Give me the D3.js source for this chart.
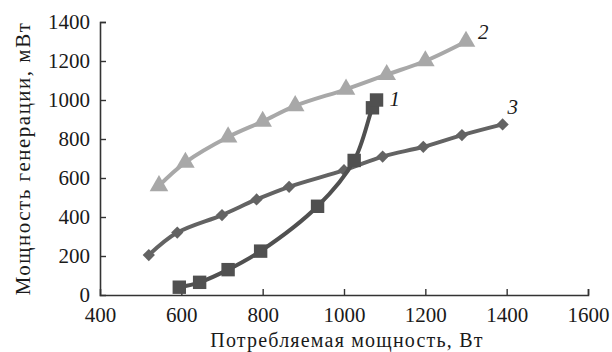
<!DOCTYPE html>
<html>
<head>
<meta charset="utf-8">
<script src="https://cdn.jsdelivr.net/npm/d3@7"></script>
<style>
  body { margin: 0; background: #fff; }
</style>
</head>
<body>
<script>
// series 1 (squares)
const s1x = [595, 645, 715, 795, 935, 1025, 1070, 1080];
const s1y = [40, 65, 130, 225, 455, 690, 960, 1000];
// series 2 (triangles)
const s2x = [545, 610, 715, 800, 880, 1005, 1105, 1200, 1300];
const s2y = [560, 680, 810, 890, 970, 1055, 1130, 1200, 1300];
// series 3 (diamonds)
const s3x = [520, 590, 700, 785, 865, 1000, 1095, 1195, 1290, 1390];
const s3y = [205, 320, 410, 490, 555, 640, 710, 760, 820, 875];

const xTicks = [400, 600, 800, 1000, 1200, 1400, 1600];
const yTicks = [0, 200, 400, 600, 800, 1000, 1200, 1400];
const xTitle = "Потребляемая мощность, Вт";
const yTitle = "Мощность генерации, мВт";

const FONT = "'Liberation Serif'";

let margin = { top: 22, right: 24, bottom: 57, left: 100 },
  width = 612 - margin.left - margin.right,
  height = 352 - margin.top - margin.bottom;

let svg = d3.select("body").append("svg")
  .attr("width", 612)
  .attr("height", 352)
  .append("g")
  .attr("transform", "translate(" + margin.left + "," + margin.top + ")");

let x = d3.scaleLinear().domain([400, 1600]).range([0, width]);
let y = d3.scaleLinear().domain([0, 1400]).range([height, 0]);

let x_node = svg.append("g")
  .attr("transform", "translate(0," + height + ")")
  .call(d3.axisBottom(x).tickValues(xTicks).tickSize(-6).tickPadding(12).tickFormat(d3.format("d")));
let y_node = svg.append("g")
  .call(d3.axisLeft(y).tickValues(yTicks).tickSize(-6).tickPadding(10).tickFormat(d3.format("d")));

[x_node, y_node].forEach(function (n) {
  n.attr("font-family", null).attr("font-size", null);
  n.select(".domain").attr("stroke", "#333").attr("stroke-width", 1.6);
  n.selectAll(".tick line").attr("stroke", "#333").attr("stroke-width", 1.4);
  n.selectAll(".tick text")
    .style("font-family", FONT)
    .style("font-size", "21px")
    .attr("fill", "#1a1a1a");
});
// keep first x tick and first y tick off the corner
x_node.selectAll(".tick line").filter(function (d) { return d === 400; }).remove();
y_node.selectAll(".tick line").filter(function (d) { return d === 0; }).remove();

svg.append("text")
  .attr("x", width / 2 + 3)
  .attr("y", height + 52)
  .attr("text-anchor", "middle")
  .style("font-family", FONT)
  .style("font-size", "20px")
  .style("letter-spacing", "1.2px")
  .attr("fill", "#1a1a1a")
  .text(xTitle);

svg.append("text")
  .attr("transform", "rotate(-90)")
  .attr("x", -height / 2)
  .attr("y", -70)
  .attr("text-anchor", "middle")
  .style("font-family", FONT)
  .style("font-size", "21px")
  .style("letter-spacing", "1.5px")
  .attr("fill", "#1a1a1a")
  .text(yTitle);

let line = d3.line()
  .x(function (d) { return x(d[0]); })
  .y(function (d) { return y(d[1]); })
  .curve(d3.curveCatmullRom.alpha(0.5));

function zip(a, b) { return a.map(function (v, i) { return [v, b[i]]; }); }

let series = [
  { data: zip(s2x, s2y), color: "#a8a8a8", sym: d3.symbolTriangle, size: 150, rot: 0 },
  { data: zip(s3x, s3y), color: "#636363", sym: d3.symbolSquare, size: 75, rot: 45 },
  { data: zip(s1x, s1y), color: "#505050", sym: d3.symbolSquare, size: 180, rot: 0 }
];

series.forEach(function (s) {
  svg.append("path")
    .datum(s.data)
    .attr("fill", "none")
    .attr("stroke", s.color)
    .attr("stroke-width", 4)
    .attr("d", line);
  svg.selectAll(null)
    .data(s.data)
    .enter().append("path")
    .attr("transform", function (d) {
      return "translate(" + x(d[0]) + "," + y(d[1]) + ") rotate(" + s.rot + ")";
    })
    .attr("d", d3.symbol().type(s.sym).size(s.size))
    .attr("fill", s.color);
});

// curve labels next to the last points
let labelPos = [
  { t: "1", d: series[2].data[series[2].data.length - 1], dx: 13, dy: 6 },
  { t: "2", d: series[0].data[series[0].data.length - 1], dx: 12, dy: -3 },
  { t: "3", d: series[1].data[series[1].data.length - 1], dx: 5, dy: -10 }
];
labelPos.forEach(function (l) {
  svg.append("text")
    .attr("x", x(l.d[0]) + l.dx)
    .attr("y", y(l.d[1]) + l.dy)
    .style("font-family", FONT)
    .style("font-size", "21px")
    .style("font-style", "italic")
    .attr("fill", "#1a1a1a")
    .text(l.t);
});
</script>
</body>
</html>
